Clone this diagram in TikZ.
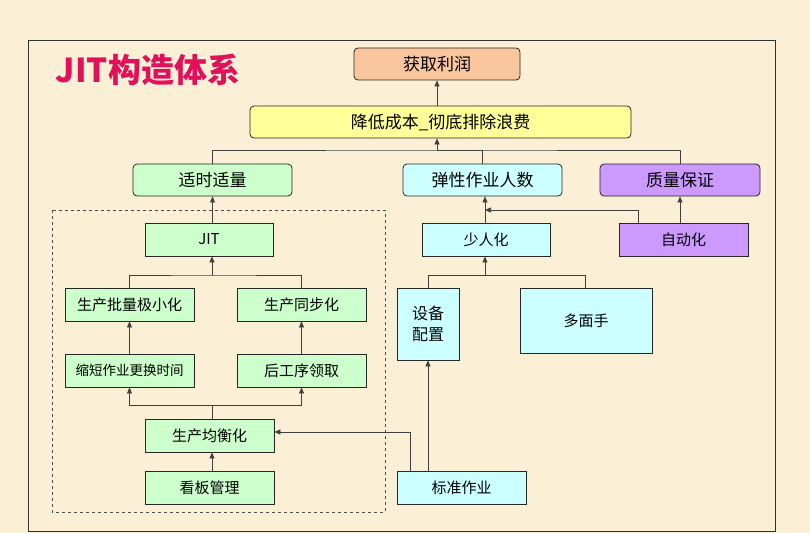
\documentclass[tikz,border=0pt]{standalone}
\usepackage{fontspec}
\setmainfont{Noto Sans CJK SC}
\usetikzlibrary{arrows.meta}
\definecolor{bgpaper}{HTML}{FBF0D6}
\definecolor{cgreen}{HTML}{CCFFCC}
\definecolor{ccyan}{HTML}{CCFFFF}
\definecolor{cpurple}{HTML}{CC99FF}
\definecolor{corange}{HTML}{F9C59C}
\definecolor{cyellow}{HTML}{FFFF99}
\definecolor{ctitle}{HTML}{E0105A}
\tikzset{
  box/.style={draw=black!85,line width=0.8pt,minimum height=33pt,font=\fontsize{15}{17}\selectfont,inner sep=1pt},
  rbox/.style={box,rounded corners=4pt,minimum height=32pt,font=\fontsize{17}{19}\selectfont},
  link/.style={draw=black!75,line width=0.7pt},
  arr/.style={link,-{Triangle[length=6pt,width=5pt]}}
}
\begin{document}
\begin{tikzpicture}[x=1pt,y=-1pt]
  \fill[bgpaper] (0,0) rectangle (810,533);
  \useasboundingbox (0,0) rectangle (810,533);
  \draw[black!80,line width=0.8pt] (28,40) rectangle (775,531);
  \draw[black!70,dashed,line width=0.7pt] (52,210) rectangle (385,512);

  \node[text=ctitle,font=\fontsize{33}{35}\selectfont\bfseries] (title) at (148,70) {JIT构造体系};

  % top levels
  \node[rbox,fill=corange,minimum width=166pt] (profit) at (437,64) {获取利润};
  \node[rbox,fill=cyellow,minimum width=381pt] (cost) at (440.5,122) {降低成本\_彻底排除浪费};
  \node[rbox,fill=cgreen,minimum width=159pt] (jitq) at (212.5,180) {适时适量};
  \node[rbox,fill=ccyan,minimum width=159pt] (flex) at (482.5,180) {弹性作业人数};
  \node[rbox,fill=cpurple,minimum width=160pt] (qual) at (680,180) {质量保证};

  % second level
  \node[box,fill=cgreen,minimum width=128pt] (jit) at (209,239.5) {JIT};
  \node[box,fill=ccyan,minimum width=128pt] (few) at (486,239.5) {少人化};
  \node[box,fill=cpurple,minimum width=129pt] (auto) at (683.5,239.5) {自动化};

  % inside the dashed frame
  \node[box,fill=cgreen,minimum width=129pt] (batch) at (129.5,304.5) {生产批量极小化};
  \node[box,fill=cgreen,minimum width=129pt] (sync) at (301.5,304.5) {生产同步化};
  \node[box,fill=cgreen,minimum width=129pt,font=\fontsize{13.5}{15}\selectfont] (setup) at (129.5,370.5) {缩短作业更换时间};
  \node[box,fill=cgreen,minimum width=129pt] (pull) at (301.5,370.5) {后工序领取};
  \node[box,fill=cgreen,minimum width=129pt] (level) at (209.5,435.5) {生产均衡化};
  \node[box,fill=cgreen,minimum width=129pt] (kanban) at (209.5,487.5) {看板管理};

  % right column
  \node[box,fill=ccyan,minimum width=62pt,minimum height=72pt,align=center,font=\fontsize{16}{21}\selectfont] (equip) at (428,324) {设备\\配置};
  \node[box,fill=ccyan,minimum width=132pt,minimum height=65pt] (multi) at (586,320.5) {多面手};
  \node[box,fill=ccyan,minimum width=129pt] (std) at (461.5,487.5) {标准作业};

  % connectors
  \draw[arr] (cost.north -| profit) -- (profit.south);
  \draw[link] (jitq.north) |- (437,150) -| (qual.north);
  \draw[link] (flex.north) |- (437,150);
  \draw[arr] (437,150) -- (cost.south -| 437,0);
  \draw[arr] (jit.north -| jitq) -- (jitq.south);
  \draw[arr] (few.north -| 485,0) -- (flex.south -| 485,0);
  \draw[arr] (auto.north -| qual) -- (qual.south);
  \draw[arr] (auto.north -| 638,0) |- (485,210);

  \draw[link] (batch.north) |- (212,275) -| (sync.north);
  \draw[arr] (212,275) -- (jit.south -| 212,0);
  \draw[arr] (setup.north -| batch) -- (batch.south);
  \draw[arr] (pull.north -| sync) -- (sync.south);
  \draw[link] (level.north -| 212,0) -- (212,405);
  \draw[arr] (212,405) -| (setup.south);
  \draw[arr] (212,405) -| (pull.south);
  \draw[arr] (kanban.north -| 212,0) -- (level.south -| 212,0);

  \draw[arr] (std.north -| 410,0) |- (level.east |- 0,432);
  \draw[arr] (std.north -| equip) -- (equip.south);
  \draw[link] (equip.north) |- (585,275) -- (multi.north -| 585,0);
  \draw[arr] (485,275) -- (few.south -| 485,0);
\end{tikzpicture}
\end{document}
